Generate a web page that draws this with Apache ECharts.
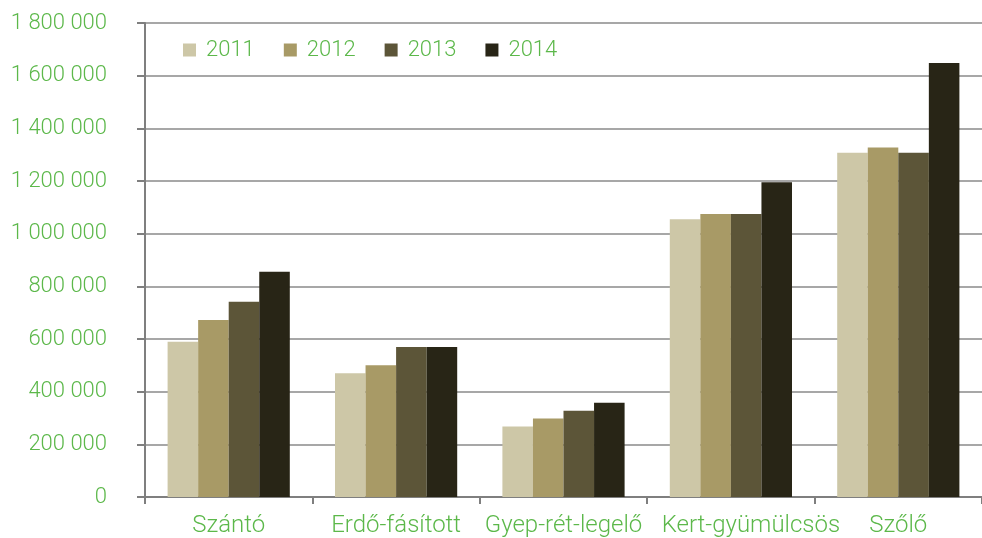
<!DOCTYPE html>
<html>
<head>
    <meta charset="utf-8">
    <title>Chart</title>
    <script src="https://cdn.jsdelivr.net/npm/echarts@6.0.0/dist/echarts.min.js"></script>
    <style>
        html, body { margin: 0; padding: 0; background: #fff; }
        #main { width: 982px; height: 538px; }
    </style>
</head>
<body>
    <div id="main"></div>
    <script>
        var myChart = echarts.init(document.getElementById('main'));

        // data
        const categories = ['Szántó', 'Erdő-fásított', 'Gyep-rét-legelő', 'Kert-gyümülcsös', 'Szőlő'];
        const years = ['2011', '2012', '2013', '2014'];
        const v2011 = [590000, 470000, 268000, 1055000, 1307000];
        const v2012 = [672000, 500000, 298000, 1075000, 1327000];
        const v2013 = [741000, 570000, 328000, 1075000, 1307000];
        const v2014 = [855000, 570000, 358000, 1195000, 1648000];
        const values = [v2011, v2012, v2013, v2014];
        const colors = ['#cdc7a7', '#a89a66', '#5c5538', '#282516'];

        const green = '#5cb84a';
        const fontName = 'Roboto';

        function fmt(v) {
            return String(v).replace(/\B(?=(\d{3})+(?!\d))/g, ' ');
        }

        // the long 4th label is nudged right in the original so it does not collide
        const catData = categories.map((c, i) => i === 3
            ? { value: c, textStyle: { padding: [0, 0, 0, 40] } }
            : c);

        const series = years.map((y, i) => ({
            name: y,
            type: 'bar',
            data: values[i],
            barGap: '0%',
            barCategoryGap: '27%',
            itemStyle: { color: colors[i] }
        }));

        const option = {
            animation: false,
            backgroundColor: '#ffffff',
            legend: {
                data: years,
                left: 178,
                top: 34,
                itemWidth: 13,
                itemHeight: 13,
                itemGap: 29,
                icon: 'rect',
                textStyle: { color: green, fontSize: 22, fontWeight: 300, fontFamily: fontName, padding: [0, 0, 0, 5] }
            },
            grid: {
                left: 145,
                top: 23,
                width: 846,
                height: 476,
                containLabel: false
            },
            xAxis: {
                type: 'category',
                data: catData,
                axisLine: { lineStyle: { color: '#7f7f7f', width: 2 } },
                axisTick: { show: true, length: 7, lineStyle: { color: '#7f7f7f', width: 2 } },
                axisLabel: { color: green, fontSize: 24, fontWeight: 300, fontFamily: fontName, margin: 17, interval: 0 }
            },
            yAxis: {
                type: 'value',
                min: 0,
                max: 1800000,
                interval: 200000,
                axisLine: { show: true, lineStyle: { color: '#7f7f7f', width: 2 } },
                axisTick: { show: true, length: 8, lineStyle: { color: '#7f7f7f', width: 2 } },
                splitLine: { lineStyle: { color: '#8a8a8a', width: 1.5 } },
                axisLabel: {
                    color: green,
                    fontSize: 22,
                    fontWeight: 300,
                    fontFamily: fontName,
                    margin: 38,
                    formatter: fmt
                }
            },
            series: series
        };

        myChart.setOption(option);
    </script>
</body>
</html>
